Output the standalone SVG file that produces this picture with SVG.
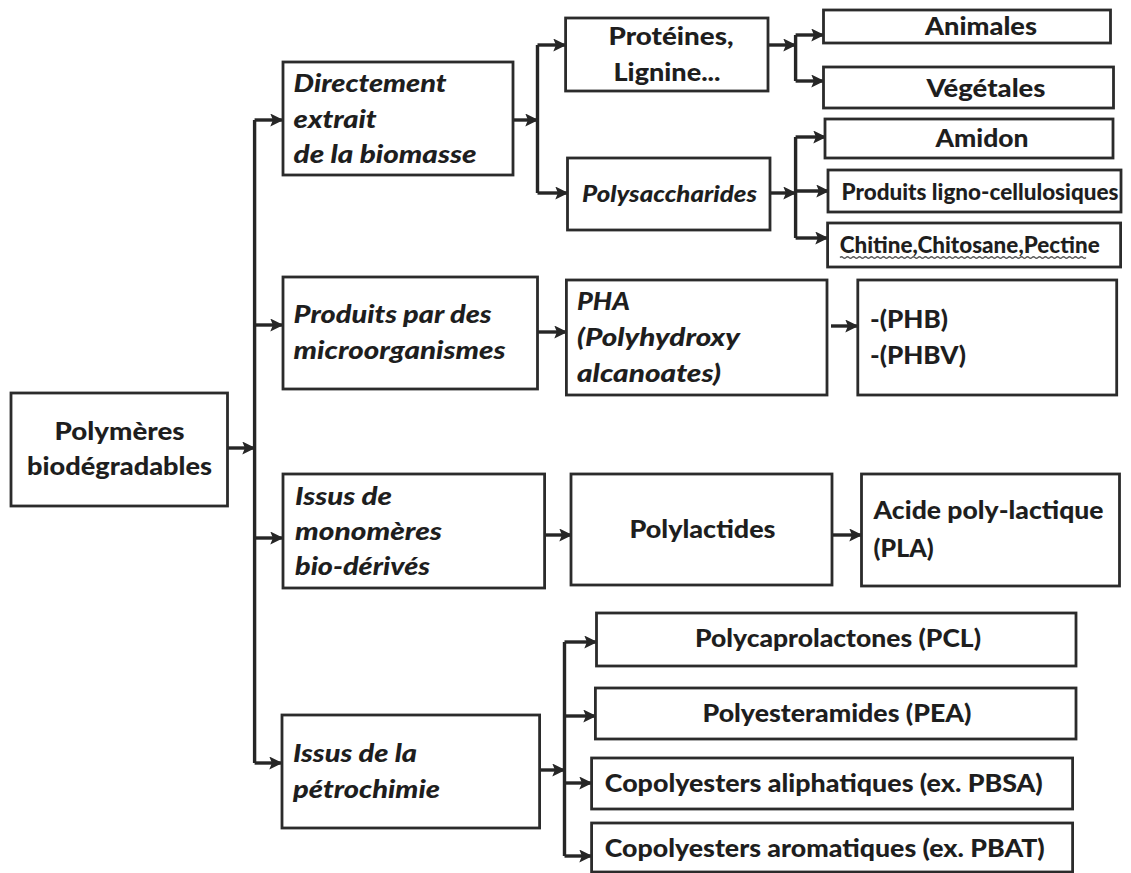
<svg xmlns="http://www.w3.org/2000/svg" width="1131" height="873" viewBox="0 0 1131 873">
<defs>
<marker id="ah" viewBox="0 0 10 10" refX="9" refY="5" markerWidth="13" markerHeight="13" markerUnits="userSpaceOnUse" orient="auto">
<path d="M0,0 L10,5 L0,10 L2,5 z" fill="#262626"/>
</marker>
</defs>
<style>
rect{fill:#fff;stroke:#2b2b2b;stroke-width:2.8}
text{font-family:Lato,"Liberation Sans",sans-serif;font-weight:900;font-size:25px;fill:#1e1e1e}
.i{font-style:italic}
.c{text-anchor:middle}
.s{font-size:22px}
#connectors path{fill:none;stroke:#262626;stroke-width:3.4;stroke-linejoin:round}
#connectors path.a{marker-end:url(#ah)}
</style>
<rect x="0" y="0" width="1131" height="873" style="fill:#fff;stroke:none"/>
<g id="connectors">
<path class="a" d="M227.5,448 H254"/>
<path d="M254.6,120 V763"/>
<path class="a" d="M254.6,120 H282"/>
<path class="a" d="M254.6,325 H282"/>
<path class="a" d="M254.6,538 H282"/>
<path class="a" d="M254.6,763 H281"/>
<path class="a" d="M513,120 H537"/>
<path d="M537.5,45 V193"/>
<path class="a" d="M537.5,45 H565"/>
<path class="a" d="M537.5,193 H567"/>
<path class="a" d="M768,45 H795"/>
<path d="M795.6,35 V81"/>
<path class="a" d="M795.6,35 H823"/>
<path class="a" d="M795.6,81 H823"/>
<path class="a" d="M770,193 H795"/>
<path d="M795.6,137 V238"/>
<path class="a" d="M795.6,137 H825"/>
<path class="a" d="M795.6,191 H828"/>
<path class="a" d="M795.6,238 H827"/>
<path class="a" d="M537.5,332 H566"/>
<path class="a" d="M831,326 H857"/>
<path class="a" d="M544.6,535 H571"/>
<path class="a" d="M832,535 H861"/>
<path class="a" d="M539.6,770 H564"/>
<path d="M564.5,642 V856"/>
<path class="a" d="M564.5,642 H596"/>
<path class="a" d="M564.5,716 H595"/>
<path class="a" d="M564.5,783 H591"/>
<path class="a" d="M564.5,856 H591"/>
</g>
<g id="root">
<rect x="11" y="393" width="216.5" height="113"/>
<text class="c" x="119.5" y="440" textLength="130" lengthAdjust="spacingAndGlyphs">Polymères</text>
<text class="c" x="119.5" y="475" textLength="185" lengthAdjust="spacingAndGlyphs">biodégradables</text>
</g>
<g id="n-directement">
<rect x="283" y="62" width="230" height="113"/>
<text class="i" x="293.6" y="92" textLength="153" lengthAdjust="spacingAndGlyphs">Directement</text>
<text class="i" x="293.6" y="128" textLength="83" lengthAdjust="spacingAndGlyphs">extrait</text>
<text class="i" x="293.6" y="163" textLength="183" lengthAdjust="spacingAndGlyphs">de la biomasse</text>
</g>
<g id="n-produits">
<rect x="283" y="277" width="254.5" height="112"/>
<text class="i" x="293.6" y="323" textLength="198" lengthAdjust="spacingAndGlyphs">Produits par des</text>
<text class="i" x="293.6" y="359" textLength="212" lengthAdjust="spacingAndGlyphs">microorganismes</text>
</g>
<g id="n-monomeres">
<rect x="283" y="474" width="261.6" height="114"/>
<text class="i" x="295" y="505" textLength="97" lengthAdjust="spacingAndGlyphs">Issus de</text>
<text class="i" x="295" y="540" textLength="147" lengthAdjust="spacingAndGlyphs">monomères</text>
<text class="i" x="295" y="575" textLength="135" lengthAdjust="spacingAndGlyphs">bio-dérivés</text>
</g>
<g id="n-petrochimie">
<rect x="282" y="715" width="257.6" height="113"/>
<text class="i" x="293" y="762" textLength="124" lengthAdjust="spacingAndGlyphs">Issus de la</text>
<text class="i" x="293" y="798" textLength="147" lengthAdjust="spacingAndGlyphs">pétrochimie</text>
</g>
<g id="n-proteines">
<rect x="565.6" y="18" width="202.4" height="73"/>
<text class="c" x="671" y="45" textLength="125" lengthAdjust="spacingAndGlyphs">Protéines,</text>
<text class="c" x="667" y="81" textLength="107" lengthAdjust="spacingAndGlyphs">Lignine...</text>
</g>
<g id="n-polysaccharides">
<rect x="567.5" y="158" width="202.5" height="72"/>
<text class="i" x="582" y="202" textLength="175" lengthAdjust="spacingAndGlyphs" style="font-size:23px">Polysaccharides</text>
</g>
<g id="n-animales">
<rect x="823.5" y="10" width="287" height="33"/>
<text class="c" x="981" y="35" textLength="112" lengthAdjust="spacingAndGlyphs">Animales</text>
</g>
<g id="n-vegetales">
<rect x="823.5" y="67" width="290" height="41"/>
<text class="c" x="986" y="97" textLength="119" lengthAdjust="spacingAndGlyphs">Végétales</text>
</g>
<g id="n-amidon">
<rect x="825" y="119" width="288" height="39"/>
<text class="c" x="982" y="147" textLength="93" lengthAdjust="spacingAndGlyphs">Amidon</text>
</g>
<g id="n-ligno">
<rect x="828" y="170" width="293" height="42"/>
<text class="s" x="841.5" y="200" textLength="277" lengthAdjust="spacingAndGlyphs">Produits ligno-cellulosiques</text>
</g>
<g id="n-chitine">
<rect x="827.6" y="223" width="293" height="44"/>
<text class="s" x="839.7" y="253" textLength="260" lengthAdjust="spacingAndGlyphs">Chitine,Chitosane,Pectine</text>
<path d="M840,257.5 q1.5,-1.5 3,0 t3,0 t3,0 t3,0 t3,0 t3,0 t3,0 t3,0 t3,0 t3,0 t3,0 t3,0 t3,0 t3,0 t3,0 t3,0 t3,0 t3,0 t3,0 t3,0 t3,0 t3,0 t3,0 t3,0 t3,0 t3,0 t3,0 t3,0 t3,0 t3,0 t3,0 t3,0 t3,0 t3,0 t3,0 t3,0 t3,0 t3,0 t3,0 t3,0 t3,0 t3,0 t3,0 t3,0 t3,0 t3,0 t3,0 t3,0 t3,0 t3,0 t3,0 t3,0 t3,0 t3,0 t3,0 t3,0 t3,0 t3,0 t3,0 t3,0 t3,0 t3,0 t3,0 t3,0 t3,0 t3,0 t3,0 t3,0 t3,0 t3,0 t3,0 t3,0 t3,0 t3,0 t3,0 t3,0 t3,0 t3,0 t3,0 t3,0 t3,0 t3,0" fill="none" stroke="#555" stroke-width="1.2"/>
</g>
<g id="n-pha">
<rect x="566.4" y="280" width="260.6" height="115"/>
<text class="i" x="577" y="310" textLength="53" lengthAdjust="spacingAndGlyphs">PHA</text>
<text class="i" x="577" y="346" textLength="163" lengthAdjust="spacingAndGlyphs">(Polyhydroxy</text>
<text class="i" x="577" y="382" textLength="144" lengthAdjust="spacingAndGlyphs">alcanoates)</text>
</g>
<g id="n-phb">
<rect x="857.8" y="280" width="258.9" height="115"/>
<text x="870" y="328" textLength="78" lengthAdjust="spacingAndGlyphs">-(PHB)</text>
<text x="870" y="364" textLength="96" lengthAdjust="spacingAndGlyphs">-(PHBV)</text>
</g>
<g id="n-polylactides">
<rect x="571" y="474" width="261" height="111"/>
<text class="c" x="702.5" y="538" textLength="146" lengthAdjust="spacingAndGlyphs">Polylactides</text>
</g>
<g id="n-pla">
<rect x="861.5" y="474" width="258" height="112"/>
<text x="873.6" y="519" textLength="230" lengthAdjust="spacingAndGlyphs">Acide poly-lactique</text>
<text x="873.6" y="557" textLength="60" lengthAdjust="spacingAndGlyphs">(PLA)</text>
</g>
<g id="n-pcl">
<rect x="596.5" y="613" width="479.5" height="53"/>
<text class="c" x="838" y="647" textLength="286" lengthAdjust="spacingAndGlyphs">Polycaprolactones (PCL)</text>
</g>
<g id="n-pea">
<rect x="595.4" y="688" width="480.6" height="51"/>
<text class="c" x="837" y="722" textLength="269" lengthAdjust="spacingAndGlyphs">Polyesteramides (PEA)</text>
</g>
<g id="n-pbsa">
<rect x="591.6" y="758" width="481" height="51"/>
<text x="604.8" y="792" textLength="438" lengthAdjust="spacingAndGlyphs">Copolyesters aliphatiques (ex. PBSA)</text>
</g>
<g id="n-pbat">
<rect x="591.6" y="823" width="481" height="49"/>
<text x="604.8" y="857" textLength="440" lengthAdjust="spacingAndGlyphs">Copolyesters aromatiques (ex. PBAT)</text>
</g>
</svg>
